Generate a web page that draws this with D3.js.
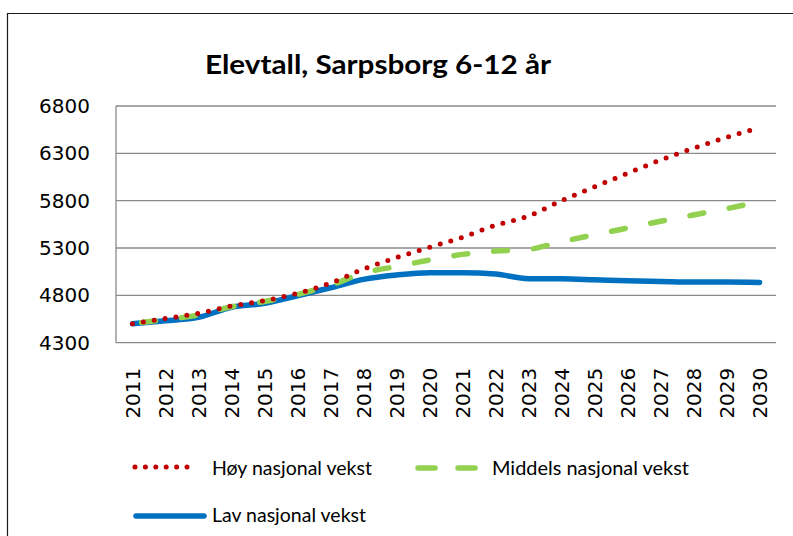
<!DOCTYPE html>
<html>
<head>
<meta charset="utf-8">
<script src="https://cdn.jsdelivr.net/npm/d3@7"></script>
<style>
  body { margin: 0; background: #fff; }
  svg { display: block; }
</style>
</head>
<body>
<div id="chart"></div>
<script>
// data //

const years = ["2011","2012","2013","2014","2015","2016","2017","2018","2019","2020",
  "2021","2022","2023","2024","2025","2026","2027","2028","2029","2030"];
const hoy = [4500,4555,4610,4688,4744,4822,4930,5078,5198,5307,
  5414,5540,5638,5800,5946,6089,6229,6353,6469,6570];
const middels = [4500,4545,4592,4680,4735,4810,4905,5036,5105,5173,
  5233,5268,5286,5367,5440,5511,5582,5649,5715,5790];
const lav = [4500,4532,4568,4674,4716,4796,4880,4969,5015,5039,
  5039,5025,4976,4975,4965,4954,4947,4940,4940,4936];
const yTicks = [4300,4800,5300,5800,6300,6800];
const seriesNames = ["Høy nasjonal vekst","Middels nasjonal vekst","Lav nasjonal vekst"];

const W = 793, H = 536;
const plot = { left: 116, right: 776, top: 106, bottom: 342.7 };

const svg = d3.select("#chart").append("svg")
  .attr("width", W)
  .attr("height", H);

// outer frame (only left + top visible)
svg.append("path")
  .attr("d", `M7.5,${H} L7.5,13.5 L${W},13.5`)
  .attr("fill", "none")
  .attr("stroke", "#1a1a1a")
  .attr("stroke-width", 1.2);

// scales
const x = d3.scalePoint()
  .domain(years)
  .range([plot.left, plot.right])
  .padding(0.5);

const y = d3.scaleLinear()
  .domain([4300, 6800])
  .range([plot.bottom, plot.top]);

// gridlines
svg.selectAll(".grid")
  .data(yTicks)
  .join("line")
  .attr("x1", plot.left)
  .attr("x2", plot.right)
  .attr("y1", d => y(d))
  .attr("y2", d => y(d))
  .attr("stroke", "#8a8a8a")
  .attr("stroke-width", 1.3);

// left axis line
svg.append("line")
  .attr("x1", plot.left).attr("x2", plot.left)
  .attr("y1", plot.top).attr("y2", plot.bottom)
  .attr("stroke", "#8a8a8a")
  .attr("stroke-width", 1.3);

// y axis labels
svg.append("g")
  .attr("transform", `translate(${plot.left - 26},0)`)
  .call(d3.axisLeft(y).tickValues(yTicks).tickFormat(d3.format("d")).tickSize(0).tickPadding(0))
  .attr("font-family", "DejaVu Sans")
  .attr("font-size", 20)
  .call(g => g.select(".domain").remove())
  .selectAll(".tick text")
  .attr("fill", "#000");

// x axis labels (rotated)
svg.selectAll(".xlab")
  .data(years)
  .join("text")
  .attr("transform", d => `translate(${x(d)},${plot.bottom + 25}) rotate(-90)`)
  .attr("text-anchor", "end")
  .attr("dy", "0.36em")
  .attr("font-family", "DejaVu Sans")
  .attr("font-size", 20)
  .attr("fill", "#000")
  .text(d => d);

// lines
const line = d3.line()
  .x((d, i) => x(years[i]))
  .y(d => y(d))
  .curve(d3.curveMonotoneX);

svg.append("path")
  .datum(lav)
  .attr("fill", "none")
  .attr("stroke", "#0070C0")
  .attr("stroke-width", 5.5)
  .attr("stroke-linecap", "round")
  .attr("stroke-linejoin", "round")
  .attr("d", line);

const midPath = svg.append("path")
  .datum(middels)
  .attr("fill", "none")
  .attr("stroke", "#92D050")
  .attr("stroke-width", 5.5)
  .attr("stroke-linecap", "round")
  .attr("stroke-dasharray", "14 26")
  .attr("d", line);

// shift the dash pattern so the last dash stops short of the end, as in the original
const midLen = midPath.node().getTotalLength();
const dashStart = ((midLen - 31) % 40 + 40) % 40;
midPath.attr("stroke-dashoffset", (40 - dashStart) % 40);

svg.append("path")
  .datum(hoy)
  .attr("fill", "none")
  .attr("stroke", "#C00000")
  .attr("stroke-width", 5)
  .attr("stroke-linecap", "round")
  .attr("stroke-dasharray", "0 11")
  .attr("d", line);

// title
svg.append("text")
  .attr("x", 378)
  .attr("y", 74)
  .attr("text-anchor", "middle")
  .attr("textLength", 346)
  .attr("lengthAdjust", "spacingAndGlyphs")
  .style("font-family", "Lato")
  .style("font-weight", "bold")
  .style("font-size", "26px")
  .attr("fill", "#000")
  .text("Elevtall, Sarpsborg 6-12 år");

// legend
const legend = svg.append("g");

legend.append("line")
  .attr("x1", 135).attr("x2", 197)
  .attr("y1", 467).attr("y2", 467)
  .attr("stroke", "#C00000")
  .attr("stroke-width", 5)
  .attr("stroke-linecap", "round")
  .attr("stroke-dasharray", "0 10.4");

legend.append("line")
  .attr("x1", 418).attr("x2", 478)
  .attr("y1", 468).attr("y2", 468)
  .attr("stroke", "#92D050")
  .attr("stroke-width", 5.5)
  .attr("stroke-linecap", "round")
  .attr("stroke-dasharray", "17 23");

legend.append("line")
  .attr("x1", 136).attr("x2", 204)
  .attr("y1", 516).attr("y2", 516)
  .attr("stroke", "#0070C0")
  .attr("stroke-width", 5.5)
  .attr("stroke-linecap", "round");

const legendItems = [
  { name: seriesNames[0], x: 212, y: 475, w: 160 },
  { name: seriesNames[1], x: 492, y: 475, w: 197 },
  { name: seriesNames[2], x: 212, y: 522, w: 154 }
];

legend.selectAll(".ltext")
  .data(legendItems)
  .join("text")
  .attr("x", d => d.x)
  .attr("y", d => d.y)
  .attr("textLength", d => d.w)
  .attr("lengthAdjust", "spacingAndGlyphs")
  .style("font-family", "Lato")
  .style("font-size", "19px")
  .attr("fill", "#000")
  .text(d => d.name);
</script>
</body>
</html>
